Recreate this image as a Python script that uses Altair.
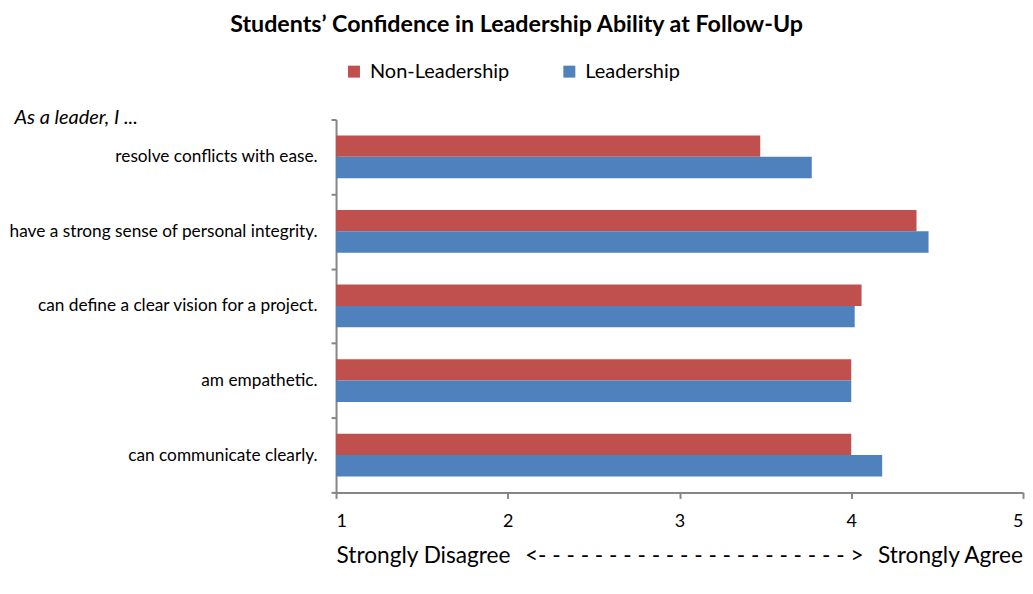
import altair as alt
import pandas as pd

categories = [
    "resolve conflicts with ease.",
    "have a strong sense of personal integrity.",
    "can define a clear vision for a project.",
    "am empathetic.",
    "can communicate clearly.",
]
non_leadership = [3.47, 4.38, 4.06, 4.00, 4.00]
leadership = [3.77, 4.45, 4.02, 4.00, 4.18]
series = ["Non-Leadership", "Leadership"]
colors = ["#C0504D", "#4F81BD"]
x_ticks = [1, 2, 3, 4, 5]

rows = []
for c, nl, l in zip(categories, non_leadership, leadership):
    rows.append({"item": c, "group": series[0], "score": nl})
    rows.append({"item": c, "group": series[1], "score": l})
df = pd.DataFrame(rows)

FONT = "Lato"
GRAY = "#868686"
SP = "\u00a0\u00a0\u2009"
bottom_title = "Strongly Disagree" + SP + "<- - - - - - - - - - - - - - - - - - - - - - >" + SP + "Strongly Agree"

chart = (
    alt.Chart(df)
    .mark_bar()
    .encode(
        y=alt.Y(
            "item:N",
            sort=categories,
            scale=alt.Scale(paddingInner=0, paddingOuter=0),
            axis=alt.Axis(
                title="As a leader, I ...",
                titleAngle=0,
                titleAlign="left",
                titleBaseline="middle",
                titleX=-323,
                titleY=-2,
                titleFontStyle="italic",
                titleFontWeight="normal",
                titleFontSize=20,
                titleFont=FONT,
                tickBand="extent",
                tickSize=5,
                labelPadding=14,
                labelFontSize=17.3,
                labelFont=FONT,
                labelLimit=400,
            ),
        ),
        yOffset=alt.YOffset(
            "group:N",
            sort=series,
            scale=alt.Scale(paddingInner=0, paddingOuter=0.744),
        ),
        x=alt.X(
            "score:Q",
            scale=alt.Scale(domain=[1, 5], nice=False, zero=False),
            axis=alt.Axis(
                values=x_ticks,
                format="d",
                grid=False,
                tickSize=6,
                labelFontSize=18,
                labelFont=FONT,
                labelPadding=14,
                title=bottom_title,
                titleFont=FONT,
                titleFontSize=22.7,
                titleFontWeight="normal",
                titleAnchor="start",
                titleAlign="left",
                titlePadding=14,
            ),
        ),
        x2=alt.datum(1),
        color=alt.Color(
            "group:N",
            sort=series,
            scale=alt.Scale(domain=series, range=colors),
            legend=alt.Legend(
                title=None,
                orient="none",
                direction="horizontal",
                legendX=8,
                legendY=-58,
                symbolType="square",
                symbolSize=144,
                symbolStrokeWidth=0,
                labelFontSize=20,
                labelFont=FONT,
                labelOffset=6,
                columnPadding=50,
            ),
        ),
    )
    .properties(
        width=689,
        height=374,
        padding={"left": 0, "top": 4, "right": 0, "bottom": 0},
        title=alt.TitleParams(
            text="Students\u2019 Confidence in Leadership Ability at Follow-Up",
            font=FONT,
            fontSize=23.3,
            fontWeight="bold",
            anchor="middle",
            frame="bounds",
            offset=24,
            color="black",
        ),
    )
    .configure_view(stroke=None)
    .configure_axis(
        domainColor=GRAY,
        tickColor=GRAY,
        domainWidth=2,
        tickWidth=2,
        labelColor="black",
        titleColor="black",
    )
)

chart.save("out.html", embed_options={"renderer": "svg", "actions": False})
